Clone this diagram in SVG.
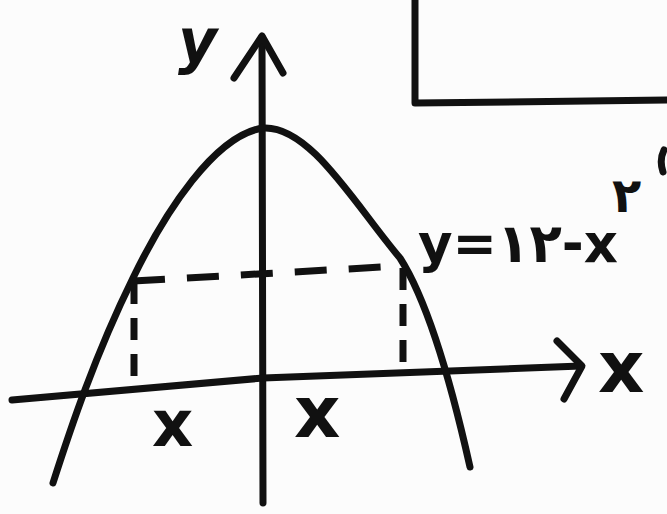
<svg xmlns="http://www.w3.org/2000/svg" width="667" height="514" viewBox="0 0 667 514">
<style>
.ln{fill:none;stroke:#111;stroke-width:7;stroke-linecap:round;stroke-linejoin:round}
.dash{fill:none;stroke:#111;stroke-width:7;stroke-linecap:butt}
.lbl{font-family:"DejaVu Sans","Liberation Sans",sans-serif;font-weight:bold;fill:#111}
</style>
<rect width="667" height="514" fill="#fcfcfc"/>
<g id="box"><path class="ln" d="M415,-5 L415,103 L670,100"/></g>
<g id="connectors">
<g id="y-axis"><path class="ln" d="M263,503 L262,37"/><path class="ln" d="M234,78 L262,36 L283,73"/></g>
<g id="x-axis"><path class="ln" d="M12,400 L263,378 L581,366"/><path class="ln" d="M557,341 L582,366 L564,399"/></g>
<g id="parabola"><path class="ln" d="M53,483 C70,430 95,355 133,278 C165,212 215,135 263,128 C310,125 355,205 400,258 C430,305 455,400 470,467"/></g>
<g id="guides">
<path class="dash" d="M133,281 L400,266" stroke-dasharray="32,22"/>
<path class="dash" d="M134,282 L134,384" stroke-dasharray="22,14"/>
<path class="dash" d="M403,268 L403,370" stroke-dasharray="22,14"/>
</g>
</g>
<g id="label-y"><text class="lbl" x="178" y="62" font-size="60" font-style="italic" font-weight="normal">y</text></g>
<g id="label-x-axis"><text class="lbl" x="598" y="392" font-size="72">x</text></g>
<g id="label-x-left"><text class="lbl" x="152" y="446" font-size="64">x</text></g>
<g id="label-x-right"><text class="lbl" x="294" y="437" font-size="72">x</text></g>
<g id="equation">
<text class="lbl" x="418" y="262" font-size="54" textLength="200" lengthAdjust="spacingAndGlyphs">y=۱۲-x</text>
<text class="lbl" x="612" y="212" font-size="48">۲</text>
</g>
<path class="ln" d="M664,150 Q659,160 663,172" stroke-width="5"/>
</svg>
